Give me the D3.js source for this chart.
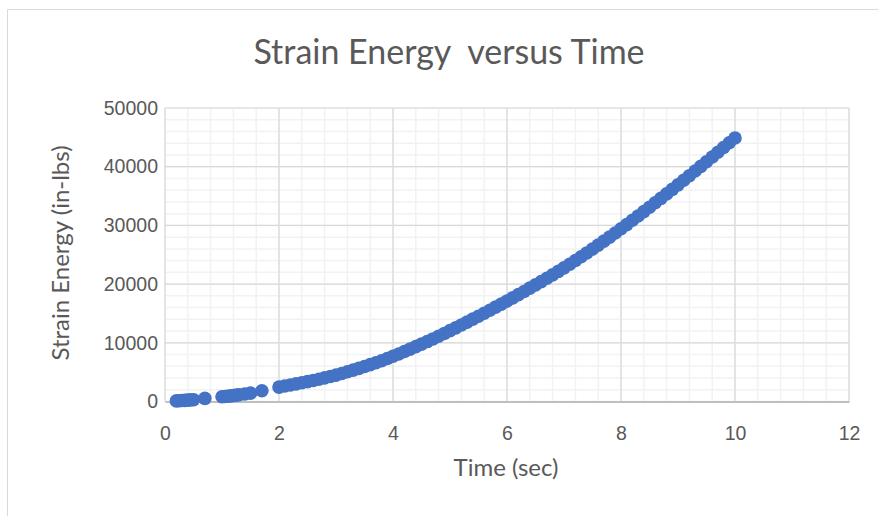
<!DOCTYPE html>
<html>
<head>
<meta charset="utf-8">
<script src="https://cdn.jsdelivr.net/npm/d3@7"></script>
<style>
  html, body { margin: 0; padding: 0; background: #fff; }
  svg { display: block; font-family: Lato, "Noto Sans", sans-serif; }
</style>
</head>
<body>
<svg id="chart" width="878" height="516"></svg>
<script>
// Strain energy samples over time
const timeSec = [
  0.2, 0.25, 0.3, 0.35, 0.4, 0.45, 0.5, 0.7,
  1.0, 1.05, 1.1, 1.15, 1.2, 1.25, 1.3, 1.4, 1.5, 1.7,
  2.0, 2.1, 2.2, 2.3, 2.4, 2.5, 2.6, 2.7, 2.8, 2.9,
  3.0, 3.1, 3.2, 3.3, 3.4, 3.5, 3.6, 3.7, 3.8, 3.9,
  4.0, 4.1, 4.2, 4.3, 4.4, 4.5, 4.6, 4.7, 4.8, 4.9,
  5.0, 5.1, 5.2, 5.3, 5.4, 5.5, 5.6, 5.7, 5.8, 5.9,
  6.0, 6.1, 6.2, 6.3, 6.4, 6.5, 6.6, 6.7, 6.8, 6.9,
  7.0, 7.1, 7.2, 7.3, 7.4, 7.5, 7.6, 7.7, 7.8, 7.9,
  8.0, 8.1, 8.2, 8.3, 8.4, 8.5, 8.6, 8.7, 8.8, 8.9,
  9.0, 9.1, 9.2, 9.3, 9.4, 9.5, 9.6, 9.7, 9.8, 9.9,
  10.0
];
const strainEnergy = [
  100, 130, 160, 190, 230, 270, 310, 540,
  800, 850, 900, 960, 1020, 1080, 1140, 1270, 1420, 1820,
  2450, 2630, 2810, 3000, 3190, 3390, 3590, 3800, 4020, 4250,
  4490, 4770, 5060, 5350, 5650, 5960, 6280, 6610, 6950, 7320,
  7700, 8100, 8510, 8920, 9340, 9770, 10210, 10660, 11120, 11590,
  12070, 12550, 13040, 13530, 14030, 14530, 15040, 15550, 16070, 16590,
  17120, 17660, 18200, 18750, 19310, 19870, 20430, 21000, 21580, 22170,
  22770, 23390, 24020, 24660, 25310, 25970, 26640, 27320, 28010, 28710,
  29420, 30140, 30870, 31610, 32350, 33100, 33850, 34610, 35370, 36140,
  36910, 37690, 38470, 39260, 40050, 40850, 41650, 42460, 43270, 44080,
  44900
];
const xTicks = [0, 2, 4, 6, 8, 10, 12];
const yTicks = [0, 10000, 20000, 30000, 40000, 50000];

const chartTitle = "Strain Energy  versus Time";
const xTitle = "Time (sec)";
const yTitle = "Strain Energy (in-lbs)";

const svg = d3.select("#chart");
const plot = { left: 165, right: 849, top: 108, bottom: 401.5 };

const x = d3.scaleLinear().domain([0, 12]).range([plot.left, plot.right]);
const y = d3.scaleLinear().domain([0, 50000]).range([plot.bottom, plot.top]);

// outer chart frame
svg.append("path")
  .attr("d", "M7.5,516 V9.5 H878")
  .attr("fill", "none").attr("stroke", "#d9d9d9").attr("stroke-width", 1);

// minor gridlines
const g = svg.append("g");
g.selectAll(".vminor").data(d3.range(0, 12.0001, 0.4))
  .join("line")
  .attr("x1", d => x(d)).attr("x2", d => x(d))
  .attr("y1", plot.top).attr("y2", plot.bottom)
  .attr("stroke", "#f2f2f2").attr("stroke-width", 1.5);
g.selectAll(".hminor").data(d3.range(0, 50001, 2000))
  .join("line")
  .attr("x1", plot.left).attr("x2", plot.right)
  .attr("y1", d => y(d)).attr("y2", d => y(d))
  .attr("stroke", "#f2f2f2").attr("stroke-width", 1.5);

// major gridlines
g.selectAll(".vmajor").data(xTicks)
  .join("line")
  .attr("x1", d => x(d)).attr("x2", d => x(d))
  .attr("y1", plot.top).attr("y2", plot.bottom)
  .attr("stroke", "#d9d9d9").attr("stroke-width", 1.2);
g.selectAll(".hmajor").data(yTicks)
  .join("line")
  .attr("x1", plot.left).attr("x2", plot.right)
  .attr("y1", d => y(d)).attr("y2", d => y(d))
  .attr("stroke", "#d9d9d9").attr("stroke-width", 1.2);

// x axis
const xAxis = svg.append("g")
  .attr("transform", `translate(0,${plot.bottom})`)
  .call(d3.axisBottom(x).tickValues(xTicks).tickSize(0).tickPadding(25).tickFormat(d3.format("d")));
xAxis.select(".domain").attr("stroke", "#bfbfbf").attr("stroke-width", 2);
xAxis.selectAll("text").attr("fill", "#595959").style("font-size", "19.5px");

// y axis
const yAxis = svg.append("g")
  .attr("transform", `translate(${plot.left},0)`)
  .call(d3.axisLeft(y).tickValues(yTicks).tickSize(0).tickPadding(7).tickFormat(d3.format("d")));
yAxis.select(".domain").remove();
yAxis.selectAll("text").attr("fill", "#595959").style("font-size", "19.5px");

// data markers
svg.append("g").selectAll("circle")
  .data(timeSec.map((t, i) => [t, strainEnergy[i]]))
  .join("circle")
  .attr("cx", d => x(d[0]))
  .attr("cy", d => y(d[1]))
  .attr("r", 6.8)
  .attr("fill", "#4472c4");

// titles
svg.append("text")
  .attr("x", 449).attr("y", 64)
  .attr("text-anchor", "middle")
  .attr("fill", "#595959")
  .style("font-size", "34px")
  .style("white-space", "pre")
  .text(chartTitle);

svg.append("text")
  .attr("x", 506).attr("y", 476)
  .attr("text-anchor", "middle")
  .attr("fill", "#595959")
  .style("font-size", "24px")
  .text(xTitle);

svg.append("text")
  .attr("transform", "translate(69,253) rotate(-90)")
  .attr("text-anchor", "middle")
  .attr("fill", "#595959")
  .style("font-size", "24px")
  .text(yTitle);
</script>
</body>
</html>
